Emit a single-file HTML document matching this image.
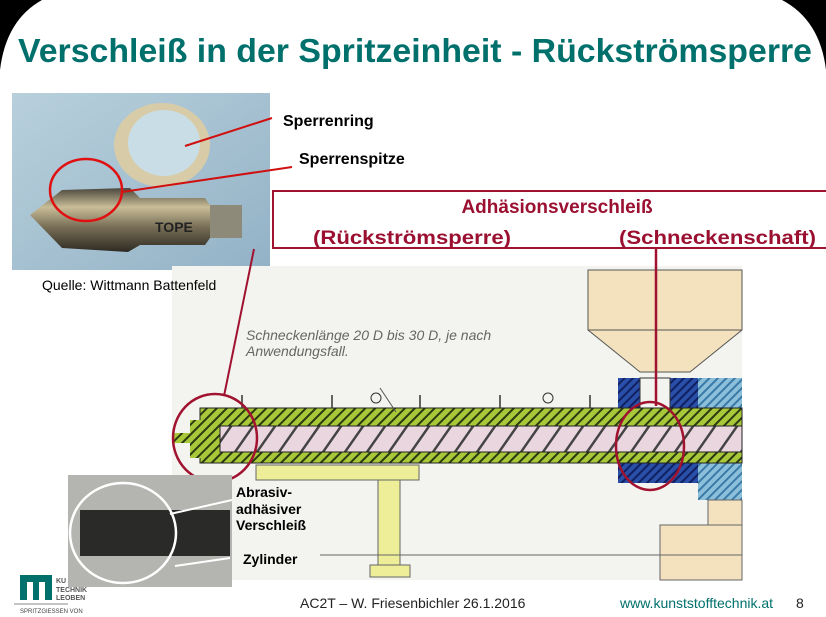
<!DOCTYPE html>
<html><head><meta charset="utf-8"><style>
html,body{margin:0;padding:0;background:#fff;width:826px;height:617px;overflow:hidden}
svg{display:block}
text{font-family:"Liberation Sans",sans-serif}
</style></head><body>
<svg width="826" height="617" viewBox="0 0 826 617" xmlns="http://www.w3.org/2000/svg">
<defs>
<pattern id="hg" width="7" height="7" patternUnits="userSpaceOnUse" patternTransform="rotate(45)">
<rect width="7" height="7" fill="#a8c83a"/><rect width="2" height="7" fill="#2a3a10"/></pattern>
<pattern id="hb" width="6" height="6" patternUnits="userSpaceOnUse" patternTransform="rotate(45)">
<rect width="6" height="6" fill="#2a4fa8"/><rect width="2" height="6" fill="#102060"/></pattern>
<pattern id="hl" width="6" height="6" patternUnits="userSpaceOnUse" patternTransform="rotate(45)">
<rect width="6" height="6" fill="#8cc0da"/><rect width="2" height="6" fill="#3a7aa8"/></pattern>
<pattern id="sc" width="22" height="30" patternUnits="userSpaceOnUse" patternTransform="skewX(-35)">
<rect width="22" height="30" fill="#ead6df"/><rect width="3" height="30" fill="#444"/></pattern>
<linearGradient id="ph" x1="0" y1="0" x2="1" y2="1"><stop offset="0" stop-color="#b8d0dc"/><stop offset="1" stop-color="#93b2c6"/></linearGradient>
<linearGradient id="met" x1="0" y1="0" x2="0" y2="1"><stop offset="0" stop-color="#4a463c"/><stop offset=".3" stop-color="#c9bd98"/><stop offset=".6" stop-color="#7a7058"/><stop offset="1" stop-color="#2e2a22"/></linearGradient>
</defs>
<rect x="0" y="0" width="826" height="617" fill="#fff"/>
<path d="M0 0 H42 Q6 20 0 70 Z" fill="#000"/>
<path d="M826 0 H782 Q820 20 826 70 Z" fill="#000"/>
<text x="18" y="62" font-size="33" font-weight="bold" fill="#00706c" textLength="794" lengthAdjust="spacingAndGlyphs">Verschleiß in der Spritzeinheit - Rückströmsperre</text>

<!-- top photo -->
<rect x="12" y="93" width="258" height="177" fill="url(#ph)"/>
<ellipse cx="162" cy="145" rx="48" ry="42" fill="#d8cca8"/>
<ellipse cx="164" cy="143" rx="36" ry="33" fill="#c8dde6"/>
<path d="M30 215 L62 190 L130 188 L140 198 L205 198 L210 205 L240 205 L240 238 L210 238 L205 245 L140 245 L128 252 L62 248 Z" fill="url(#met)"/>
<rect x="210" y="205" width="32" height="33" fill="#8e8a7a"/>
<text x="155" y="232" font-size="14" font-weight="bold" fill="#222">TOPE</text>
<ellipse cx="86" cy="190" rx="36" ry="31" fill="none" stroke="#e01010" stroke-width="2.5"/>
<line x1="185" y1="146" x2="272" y2="118" stroke="#d01010" stroke-width="2"/>
<line x1="122" y1="192" x2="292" y2="167" stroke="#d01010" stroke-width="2"/>
<text x="283" y="126" font-size="16" font-weight="bold" fill="#000">Sperrenring</text>
<text x="299" y="164" font-size="16" font-weight="bold" fill="#000">Sperrenspitze</text>

<!-- diagram -->
<rect x="172" y="266" width="570" height="314" fill="#f3f4ef"/>
<path d="M588 270 L742 270 L742 330 L690 372 L640 372 L588 330 Z" fill="#f3e2bd" stroke="#555" stroke-width="1"/>
<line x1="588" y1="330" x2="742" y2="330" stroke="#555"/>
<rect x="618" y="378" width="80" height="32" fill="url(#hb)"/>
<rect x="640" y="378" width="30" height="32" fill="#f3f4ef" stroke="#333"/>
<rect x="698" y="378" width="44" height="32" fill="url(#hl)"/>
<rect x="618" y="455" width="80" height="28" fill="url(#hb)"/>
<rect x="698" y="455" width="44" height="45" fill="url(#hl)"/>
<rect x="200" y="408" width="542" height="55" fill="url(#hg)" stroke="#222"/>
<rect x="190" y="420" width="15" height="38" fill="url(#hg)"/>
<rect x="172" y="433" width="22" height="10" fill="url(#hg)"/>
<rect x="220" y="426" width="522" height="26" fill="url(#sc)" stroke="#222"/>
<g stroke="#333" stroke-width="1.5">
<line x1="242" y1="395" x2="242" y2="408"/><line x1="332" y1="395" x2="332" y2="408"/>
<line x1="420" y1="395" x2="420" y2="408"/><line x1="500" y1="395" x2="500" y2="408"/>
<line x1="590" y1="395" x2="590" y2="408"/>
</g>
<circle cx="376" cy="398" r="5" fill="none" stroke="#333"/><circle cx="548" cy="398" r="5" fill="none" stroke="#333"/>
<rect x="256" y="465" width="163" height="15" fill="#eeee99" stroke="#666"/>
<rect x="378" y="480" width="22" height="85" fill="#eeee99" stroke="#666"/>
<rect x="370" y="565" width="40" height="12" fill="#eeee99" stroke="#666"/>
<rect x="660" y="525" width="82" height="55" fill="#f3e2bd" stroke="#666"/>
<rect x="708" y="500" width="34" height="25" fill="#f3e2bd" stroke="#666"/>
<line x1="320" y1="555" x2="742" y2="555" stroke="#666"/>
<text x="246" y="340" font-size="14" font-style="italic" fill="#666">Schneckenlänge 20 D bis 30 D, je nach</text>
<text x="246" y="356" font-size="14" font-style="italic" fill="#666">Anwendungsfall.</text>
<line x1="380" y1="388" x2="396" y2="412" stroke="#555"/>

<text x="42" y="290" font-size="14" fill="#000">Quelle: Wittmann Battenfeld</text>

<!-- red box -->
<rect x="273" y="191" width="560" height="57" fill="#fff" stroke="#a0122f" stroke-width="2"/>
<text x="557" y="213" font-size="19" font-weight="bold" fill="#9b1030" text-anchor="middle">Adhäsionsverschleiß</text>
<text x="313" y="244" font-size="19" font-weight="bold" fill="#9b1030" textLength="198" lengthAdjust="spacingAndGlyphs">(Rückströmsperre)</text>
<text x="619" y="244" font-size="19" font-weight="bold" fill="#9b1030" textLength="197" lengthAdjust="spacingAndGlyphs">(Schneckenschaft)</text>
<line x1="254" y1="249" x2="224" y2="396" stroke="#a0122f" stroke-width="2"/>
<line x1="656" y1="249" x2="656" y2="406" stroke="#a0122f" stroke-width="2.5"/>
<ellipse cx="215" cy="438" rx="42" ry="44" fill="none" stroke="#a0122f" stroke-width="2.5"/>
<ellipse cx="650" cy="446" rx="34" ry="44" fill="none" stroke="#a0122f" stroke-width="2.5"/>
<line x1="226" y1="476" x2="205" y2="488" stroke="#a0122f" stroke-width="2.5"/>

<!-- bottom photo -->
<rect x="68" y="475" width="164" height="112" fill="#b4b4b0"/>
<rect x="80" y="510" width="150" height="46" fill="#2a2a28"/>
<ellipse cx="123" cy="533" rx="53" ry="50" fill="none" stroke="#fff" stroke-width="2.5"/>
<line x1="170" y1="514" x2="232" y2="500" stroke="#fff" stroke-width="2"/>
<line x1="175" y1="566" x2="230" y2="558" stroke="#fff" stroke-width="2"/>
<text x="236" y="497" font-size="14" font-weight="bold" fill="#000">Abrasiv-</text>
<text x="236" y="514" font-size="14" font-weight="bold" fill="#000">adhäsiver</text>
<text x="236" y="530" font-size="14" font-weight="bold" fill="#000">Verschleiß</text>
<text x="243" y="564" font-size="14" font-weight="bold" fill="#000">Zylinder</text>

<!-- logo & footer -->
<path d="M20 575 h32 v25 h-7 v-18 h-6 v18 h-6 v-18 h-6 v18 h-7 z" fill="#00706c"/>
<text x="56" y="583" font-size="7" font-weight="bold" fill="#555">KU</text>
<text x="56" y="592" font-size="7" font-weight="bold" fill="#555">TECHNIK</text>
<text x="56" y="600" font-size="7" font-weight="bold" fill="#555">LEOBEN</text>
<line x1="14" y1="604" x2="68" y2="604" stroke="#888"/>
<text x="20" y="613" font-size="6" fill="#444">SPRITZGIESSEN VON</text>
<text x="300" y="608" font-size="14" fill="#222">AC2T – W. Friesenbichler 26.1.2016</text>
<text x="620" y="608" font-size="14" fill="#00706c">www.kunststofftechnik.at</text>
<text x="796" y="608" font-size="14" fill="#222">8</text>
</svg>
</body></html>
